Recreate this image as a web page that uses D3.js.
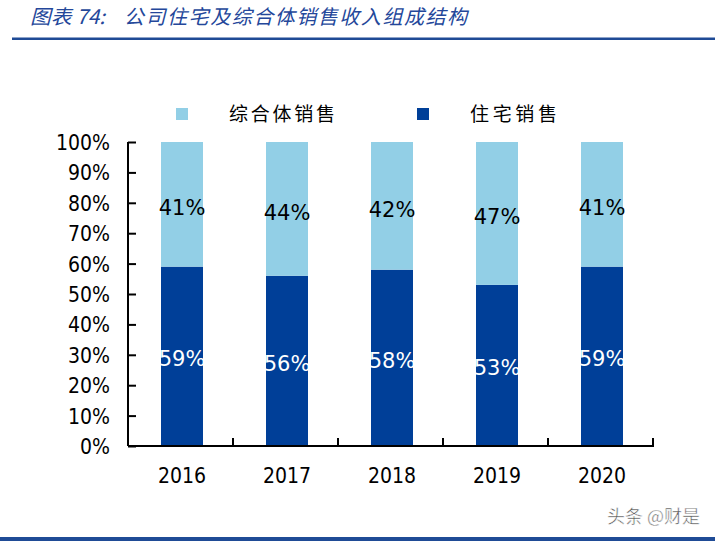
<!DOCTYPE html>
<html>
<head>
  <meta charset="utf-8">
  <script src="https://d3js.org/d3.v7.min.js"></script>
  <style>
    body { margin: 0; background: #fff; }
    text { font-family: "DejaVu Sans Condensed", "DejaVu Sans", sans-serif; }
    .cjk { font-family: "Noto Sans CJK SC", sans-serif; }
  </style>
</head>
<body>
<div id="chart"></div>
<script>
  // data
  var years = ["2016", "2017", "2018", "2019", "2020"];
  var residential = [59, 56, 58, 53, 59];   // 住宅销售
  var complexSales = [41, 44, 42, 47, 41];  // 综合体销售
  var yTicks = [0, 10, 20, 30, 40, 50, 60, 70, 80, 90, 100];

  var W = 715, H = 541;
  var darkBlue = "#003f98", lightBlue = "#92cfe6", ruleBlue = "#1f4b96";

  var svg = d3.select("#chart").append("svg")
      .attr("width", W).attr("height", H);

  // title + rules
  svg.append("text").attr("class", "cjk")
      .attr("x", 30).attr("y", 24)
      .attr("font-size", 20).attr("font-style", "italic")
      .attr("fill", "#24479a")
      .attr("textLength", 75).attr("lengthAdjust", "spacingAndGlyphs")
      .text("图表 74:");
  svg.append("text").attr("class", "cjk")
      .attr("x", 124).attr("y", 24)
      .attr("font-size", 20).attr("font-style", "italic")
      .attr("fill", "#24479a")
      .attr("textLength", 343).attr("lengthAdjust", "spacing")
      .text("公司住宅及综合体销售收入组成结构");
  svg.append("rect").attr("x", 12).attr("y", 37.5).attr("width", W - 12).attr("height", 2.5).attr("fill", ruleBlue);
  svg.append("rect").attr("x", 0).attr("y", 537).attr("width", W).attr("height", 4).attr("fill", ruleBlue);

  // scales
  var x = d3.scaleBand().domain(years).range([128, 653]).paddingInner(0).paddingOuter(0);
  var y = d3.scaleLinear().domain([0, 100]).range([446, 142]);
  var barW = 42;

  var stack = years.map(function(yr, i) {
    return { year: yr, res: residential[i], cpx: complexSales[i] };
  });

  var g = svg.append("g");

  // residential (bottom)
  g.selectAll("rect.res").data(stack).enter().append("rect")
      .attr("class", "res")
      .attr("x", function(d) { return x(d.year) + x.bandwidth() / 2 - barW / 2 + 1.5; })
      .attr("width", barW)
      .attr("y", function(d) { return y(d.res); })
      .attr("height", function(d) { return y(0) - y(d.res); })
      .attr("fill", darkBlue);

  // complex (top)
  g.selectAll("rect.cpx").data(stack).enter().append("rect")
      .attr("class", "cpx")
      .attr("x", function(d) { return x(d.year) + x.bandwidth() / 2 - barW / 2 + 1.5; })
      .attr("width", barW)
      .attr("y", function(d) { return y(d.res + d.cpx); })
      .attr("height", function(d) { return y(d.res) - y(d.res + d.cpx); })
      .attr("fill", lightBlue);

  // segment labels
  g.selectAll("text.resl").data(stack).enter().append("text")
      .attr("x", function(d) { return x(d.year) + x.bandwidth() / 2 + 1.5; })
      .attr("y", function(d) { return y(d.res / 2) + 10; })
      .attr("text-anchor", "middle").attr("font-size", 21)
      .style("font-family", "'DejaVu Sans', sans-serif").attr("fill", "#fff")
      .text(function(d) { return d.res + "%"; });
  g.selectAll("text.cpxl").data(stack).enter().append("text")
      .attr("x", function(d) { return x(d.year) + x.bandwidth() / 2 + 1.5; })
      .attr("y", function(d) { return y(d.res + d.cpx / 2) + 11; })
      .attr("text-anchor", "middle").attr("font-size", 21)
      .style("font-family", "'DejaVu Sans', sans-serif").attr("fill", "#000")
      .text(function(d) { return d.cpx + "%"; });

  // y axis
  var yAxis = svg.append("g")
      .attr("transform", "translate(128,0)")
      .call(d3.axisRight(y).tickValues(yTicks).tickSize(8).tickFormat(""));
  yAxis.select(".domain").attr("stroke", "#000").attr("stroke-width", 2).attr("d", "M0,142V446");
  yAxis.selectAll(".tick line").attr("stroke", "#000").attr("stroke-width", 2);
  svg.append("g").selectAll("text").data(yTicks).enter().append("text")
      .attr("x", 110).attr("y", function(d) { return y(d) + 8; })
      .attr("text-anchor", "end").attr("font-size", 21).attr("fill", "#000")
      .text(function(d) { return d + "%"; });

  // x axis: ticks at category boundaries, pointing up
  var bounds = years.map(function(yr) { return x(yr); }).concat([x.range()[1]]);
  svg.append("line").attr("x1", 128).attr("x2", 654).attr("y1", 446).attr("y2", 446)
      .attr("stroke", "#000").attr("stroke-width", 2);
  svg.append("g").selectAll("line").data(bounds.slice(1)).enter().append("line")
      .attr("x1", function(d) { return d; }).attr("x2", function(d) { return d; })
      .attr("y1", 446).attr("y2", 438)
      .attr("stroke", "#000").attr("stroke-width", 2);
  svg.append("g").selectAll("text").data(years).enter().append("text")
      .attr("x", function(d) { return x(d) + x.bandwidth() / 2 + 1.5; })
      .attr("y", 483)
      .attr("text-anchor", "middle").attr("font-size", 21).attr("fill", "#000")
      .text(function(d) { return d; });

  // legend
  var legend = [
    { name: "综合体销售", color: lightBlue, x: 176, len: 106 },
    { name: "住宅销售", color: darkBlue, x: 417, len: 87 }
  ];
  var lg = svg.append("g").selectAll("g").data(legend).enter().append("g");
  lg.append("rect").attr("x", function(d) { return d.x; }).attr("y", 108)
      .attr("width", 12).attr("height", 12).attr("fill", function(d) { return d.color; });
  lg.append("text").attr("class", "cjk")
      .attr("x", function(d) { return d.x + 53; }).attr("y", 121)
      .attr("font-size", 19).attr("fill", "#000")
      .attr("textLength", function(d) { return d.len; }).attr("lengthAdjust", "spacing")
      .text(function(d) { return d.name; });

  // watermark
  svg.append("text").attr("class", "cjk")
      .attr("x", 700).attr("y", 523).attr("text-anchor", "end")
      .attr("font-size", 18).attr("fill", "#555")
      .attr("stroke", "#fff").attr("stroke-width", 0.5)
      .text("头条 @财是");
</script>
</body>
</html>
